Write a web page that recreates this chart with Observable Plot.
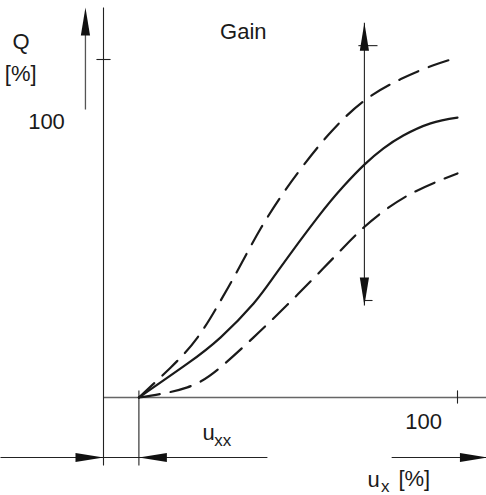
<!DOCTYPE html>
<html><head><meta charset="utf-8">
<script src="https://cdn.jsdelivr.net/npm/d3@7"></script>
<script src="https://cdn.jsdelivr.net/npm/@observablehq/plot@0.6"></script>
<style>body{margin:0;background:#fff}svg{overflow:visible}</style>
</head><body><div id="chart"></div>
<script>
// Curves (u_x %, Q %)
const solidX = [10, 23.7, 33.1, 42.4, 49.4, 60.5, 67.8, 73.7, 79.1, 84.7, 92.4, 100];
const solidY = [0, 10, 17.8, 27.8, 37.6, 53.3, 62.5, 68.9, 73.7, 77.5, 81.1, 82.8];
const upperX = [10, 19, 26.6, 33, 38, 44.4, 50.8, 56, 63.6, 73.4, 84, 93, 100];
const upperY = [0, 8.9, 17.8, 28.5, 37.8, 50, 60.5, 68, 77.8, 87.6, 94.2, 98.2, 100.6];
const lowerX = [10, 23.7, 33, 42.4, 52, 61.9, 67.8, 72.6, 78.2, 87.6, 100];
const lowerY = [0, 3, 8.9, 17.8, 27.5, 38, 44.4, 49.4, 54.4, 60.7, 66.3];

// Tick labels / texts
const yTickLabel = "100";
const xTickLabel = "100";
const uxx = 10;           // offset u_xx (% of u_x)
const tickValue = 100;

// Annotation geometry (in data units)
const axisLines = [
  {x1: 0, y1: 115.4, x2: 0, y2: -20.1},          // Q axis
  {x1: uxx, y1: 2.1, x2: uxx, y2: -20.1},        // u_xx extension line
  {x1: -2, y1: tickValue, x2: 2, y2: tickValue}, // y tick
  {x1: tickValue, y1: 2.1, x2: tickValue, y2: -1.8}, // x tick
  {x1: -29.1, y1: -17.75, x2: 46.3, y2: -17.75}, // dimension line
  {x1: 81.4, y1: -17.75, x2: 108.2, y2: -17.75}, // u_x arrow shaft
  {x1: 73.7, y1: 110.9, x2: 73.7, y2: 27.2},     // gain arrow shaft
  {x1: 72.0, y1: 104.1, x2: 77.4, y2: 104.1},    // gain top tick
  {x1: 73.7, y1: 28.7, x2: 76.0, y2: 28.7}       // gain bottom tick
];
const xAxisLine = [{x1: 0, y1: 0, x2: 108.2, y2: 0}];
const qArrowShaft = [{x1: -5.1, y1: 85.2, x2: -5.1, y2: 113}];

const headsUp = [{x: -5.1, y: 115.4}, {x: 73.7, y: 110.9}];
const headsDown = [{x: 73.7, y: 27.2}];
const headsRight = [{x: 0, y: -17.75}, {x: 108.6, y: -17.75}];
const headsLeft = [{x: uxx, y: -17.75}];

const textsMiddle = [
  {x: -23.3, y: 103.0, t: "Q"},
  {x: -23.4, y: 93.7, t: "[%]"},
  {x: -16.1, y: 79.3, t: yTickLabel},
  {x: 39.5, y: 106.2, t: "Gain"},
  {x: 90.4, y: -9.2, t: xTickLabel}
];
const textsStart = [
  {x: 28.0, y: -12.7, t: "u", s: 22},
  {x: 31.3, y: -14.4, t: "xx", s: 17},
  {x: 74.6, y: -26.6, t: "u", s: 22},
  {x: 78.4, y: -28.0, t: "x", s: 17},
  {x: 83.3, y: -26.3, t: "[%]", s: 22}
];

function head(dx, dy) {
  const L = 28, W = 4.6;
  return {draw(ctx) {
    const px = -dy, py = dx;
    ctx.moveTo(0, 0);
    ctx.lineTo(-dx * L + px * W, -dy * L + py * W);
    ctx.lineTo(-dx * L - px * W, -dy * L - py * W);
    ctx.closePath();
  }};
}

const pts = (X, Y) => X.map((x, i) => ({x, y: Y[i]}));
const font = "Liberation Sans, Arial, Helvetica, sans-serif";

const chart = Plot.plot({
  width: 486, height: 495,
  marginLeft: 103, marginRight: 29, marginTop: 59, marginBottom: 98,
  x: {domain: [0, 100], axis: null},
  y: {domain: [0, 100], axis: null},
  style: {fontFamily: font, background: "#fff", color: "#1a1a1a"},
  marks: [
    Plot.link(xAxisLine, {x1: "x1", y1: "y1", x2: "x2", y2: "y2", stroke: "#666", strokeWidth: 1.6}),
    Plot.link(axisLines, {x1: "x1", y1: "y1", x2: "x2", y2: "y2", stroke: "#222", strokeWidth: 1.1}),
    Plot.link(qArrowShaft, {x1: "x1", y1: "y1", x2: "x2", y2: "y2", stroke: "#555", strokeWidth: 1.3}),
    Plot.line(pts(upperX, upperY), {x: "x", y: "y", curve: "natural", stroke: "#1a1a1a", strokeWidth: 2.2, strokeDasharray: "21,11"}),
    Plot.line(pts(lowerX, lowerY), {x: "x", y: "y", curve: "natural", stroke: "#1a1a1a", strokeWidth: 2.2, strokeDasharray: "21,11"}),
    Plot.line(pts(solidX, solidY), {x: "x", y: "y", curve: "natural", stroke: "#1a1a1a", strokeWidth: 2.2}),
    Plot.dot(headsUp, {x: "x", y: "y", symbol: head(0, -1), fill: "#111", stroke: "none"}),
    Plot.dot(headsDown, {x: "x", y: "y", symbol: head(0, 1), fill: "#111", stroke: "none"}),
    Plot.dot(headsRight, {x: "x", y: "y", symbol: head(1, 0), fill: "#111", stroke: "none"}),
    Plot.dot(headsLeft, {x: "x", y: "y", symbol: head(-1, 0), fill: "#111", stroke: "none"}),
    Plot.text(textsMiddle, {x: "x", y: "y", text: "t", textAnchor: "middle", lineAnchor: "bottom", fontSize: 22, fill: "#1a1a1a"}),
    Plot.text(textsStart, {x: "x", y: "y", text: "t", textAnchor: "start", lineAnchor: "bottom", fontSize: "s", fill: "#1a1a1a"})
  ]
});
document.getElementById("chart").appendChild(chart);
</script>
</body></html>
